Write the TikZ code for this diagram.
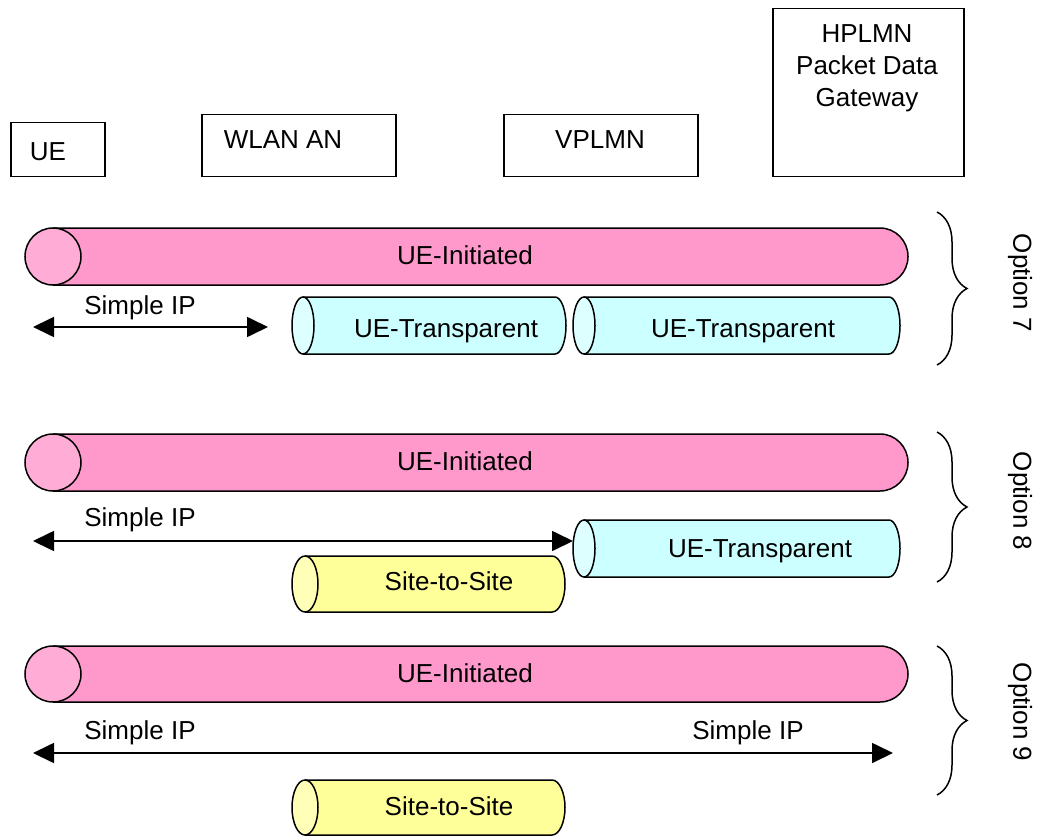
\documentclass[tikz,border=0pt]{standalone}
\usepackage{fontspec}
\setmainfont{Liberation Sans}
\usetikzlibrary{arrows.meta,decorations.pathreplacing}
\definecolor{pinkbody}{HTML}{FF99CC}
\definecolor{pinkend}{HTML}{FFADD6}
\definecolor{cyanbody}{HTML}{CCFFFF}
\definecolor{cyanend}{HTML}{DDFFFF}
\definecolor{yellowbody}{HTML}{FFFF99}
\definecolor{yellowend}{HTML}{FFFFB8}
\newcommand\tube[9]{%
  \pgfmathsetmacro\tubeymid{(#4+#5)/2}%
  \pgfmathsetmacro\tubehr{(#5-#4)/2}%
  \fill[#7body] (#2+#6,#4) -- (#3-#6,#4) arc[start angle=-90,end angle=90,x radius=#6,y radius=\tubehr] -- (#2+#6,#5) -- cycle;
  \draw[line] (#2+#6,#4) -- (#3-#6,#4) arc[start angle=-90,end angle=90,x radius=#6,y radius=\tubehr] -- (#2+#6,#5);
  \draw[line,fill=#7end] (#2+#6,\tubeymid) ellipse[x radius=#6,y radius=\tubehr];
  \node[lbl] (#1) at (#9) {#8};
}
\begin{document}
\begin{tikzpicture}[x=1pt,y=-1pt,
  line/.style={draw=black,line width=1.5pt},
  lbl/.style={font=\fontsize{26}{32}\selectfont,inner sep=0pt,text=black},
  box/.style={draw=black,line width=1.5pt,inner sep=0pt,anchor=north west},
  dbl/.style={line width=1.7pt,{Triangle[length=21pt,width=20pt]}-{Triangle[length=21pt,width=20pt]}},
  brc/.style={line width=1.5pt,decorate,decoration={brace,amplitude=30pt,aspect=0.5}}]
\useasboundingbox (0,0) rectangle (1038,837);

% top boxes
\node[box,minimum width=94pt,minimum height=54pt] (ue) at (10,122) {};
\node[lbl] (uet) at (48,152) {UE};
\node[box,minimum width=194pt,minimum height=62pt] (wlan) at (201,114) {};
\node[lbl] (wlant) at (283,140) {WLAN AN};
\node[box,minimum width=194pt,minimum height=62pt] (vplmn) at (503,114) {};
\node[lbl] (vplmnt) at (600,140) {VPLMN};
\node[box,minimum width=191pt,minimum height=168pt] (hplmn) at (772,8) {};
\node[lbl,align=center,anchor=north] (hplmnt) at (867,24) {HPLMN\\Packet Data\\Gateway};

% Option 7
\tube{ui7}{25}{908}{228}{285}{28}{pink}{UE-Initiated}{465,255}
\tube{ut7a}{292}{566}{297}{354}{11}{cyan}{UE-Transparent}{446,331}
\tube{ut7b}{573}{900}{297}{354}{11}{cyan}{UE-Transparent}{743,331}
\coordinate (a7l) at (33,327);
\coordinate (a7r) at (268,327);
\draw[dbl] (a7l) -- (a7r);
\node[lbl] (s7) at (140,308) {Simple IP};
\draw[brc] (937,212) -- (937,365);
\node[lbl,rotate=-90] (o7) at (1020,283) {Option 7};

% Option 8
\tube{ui8}{25}{908}{434}{491}{28}{pink}{UE-Initiated}{465,461}
\tube{ut8}{573}{900}{520}{577}{11}{cyan}{UE-Transparent}{760,551}
\tube{ss8}{292}{565}{556}{612}{13}{yellow}{Site-to-Site}{449,581}
\coordinate (a8l) at (33,541);
\coordinate (a8r) at (573,541);
\draw[dbl] (a8l) -- (a8r);
\node[lbl] (s8) at (140,520) {Simple IP};
\draw[brc] (937,432) -- (937,582);
\node[lbl,rotate=-90] (o8) at (1020,501) {Option 8};

% Option 9
\tube{ui9}{25}{908}{646}{702}{28}{pink}{UE-Initiated}{465,673}
\tube{ss9}{292}{565}{780}{835}{13}{yellow}{Site-to-Site}{449,806}
\coordinate (a9l) at (33,753);
\coordinate (a9r) at (893,753);
\draw[dbl] (a9l) -- (a9r);
\node[lbl] (s9a) at (140,733) {Simple IP};
\node[lbl] (s9b) at (748,733) {Simple IP};
\draw[brc] (937,646) -- (937,795);
\node[lbl,rotate=-90] (o9) at (1020,712) {Option 9};
\end{tikzpicture}
\end{document}
